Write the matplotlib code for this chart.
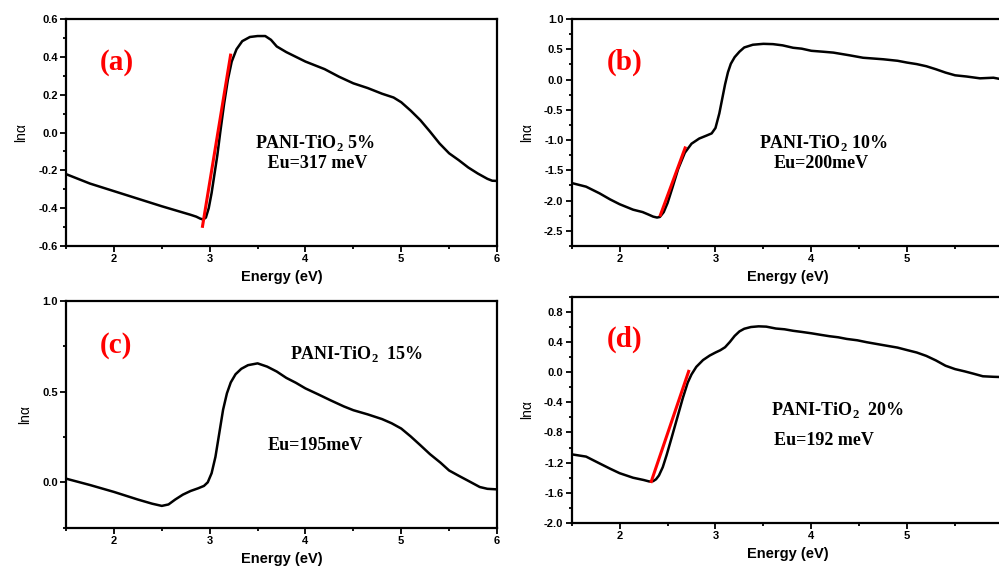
"""Urbach tail plots (ln alpha vs photon energy) for PANI-TiO2 composites."""
import matplotlib
matplotlib.use("Agg")
import matplotlib.pyplot as plt
from matplotlib.ticker import MultipleLocator, FixedLocator

SANS = "Liberation Sans"
SERIF = "Liberation Serif"

# (a) PANI-TiO2 5%
E_a = [1.5, 1.75, 2.0, 2.25, 2.5, 2.7, 2.8, 2.86, 2.9, 2.93, 2.96, 2.99, 3.02, 3.05,
       3.08, 3.11, 3.15, 3.19, 3.23, 3.28, 3.34, 3.42, 3.5, 3.58, 3.64, 3.7, 3.8,
       3.9, 4.0, 4.1, 4.2, 4.35, 4.5, 4.65, 4.8, 4.92, 5.0, 5.1, 5.2, 5.3, 5.4,
       5.5, 5.6, 5.7, 5.8, 5.9, 5.95, 6.0]
lna_a = [-0.22, -0.27, -0.31, -0.35, -0.39, -0.42, -0.435, -0.445, -0.455, -0.46, -0.45,
         -0.40, -0.32, -0.22, -0.12, 0.0, 0.15, 0.28, 0.375, 0.44, 0.483, 0.505, 0.51,
         0.51, 0.49, 0.455, 0.425, 0.40, 0.375, 0.355, 0.335, 0.295, 0.26, 0.235,
         0.205, 0.185, 0.16, 0.115, 0.065, 0.005, -0.058, -0.11, -0.146, -0.185,
         -0.217, -0.245, -0.255, -0.256]
fit_a_E = [2.925, 3.218]
fit_a_y = [-0.496, 0.409]

# (b) PANI-TiO2 10%
E_b = [1.5, 1.65, 1.79, 1.9, 2.0, 2.14, 2.24, 2.3, 2.35, 2.39, 2.42, 2.46, 2.5, 2.55,
       2.61, 2.68, 2.75, 2.83, 2.9, 2.96, 3.0, 3.04, 3.07, 3.1, 3.13, 3.16, 3.2,
       3.25, 3.3, 3.39, 3.5, 3.6, 3.7, 3.81, 3.9, 4.0, 4.12, 4.23, 4.4, 4.54,
       4.75, 4.9, 5.0, 5.1, 5.2, 5.3, 5.4, 5.5, 5.62, 5.76, 5.9, 6.0]
lna_b = [-1.71, -1.77, -1.88, -1.98, -2.06, -2.15, -2.19, -2.23, -2.265, -2.28, -2.27,
         -2.19, -2.04, -1.79, -1.48, -1.21, -1.06, -0.975, -0.93, -0.89, -0.80,
         -0.56, -0.32, -0.08, 0.12, 0.26, 0.37, 0.46, 0.53, 0.575, 0.59, 0.585,
         0.565, 0.525, 0.51, 0.475, 0.46, 0.445, 0.40, 0.36, 0.335, 0.31, 0.28,
         0.255, 0.22, 0.17, 0.115, 0.07, 0.05, 0.02, 0.03, 0.0]
fit_b_E = [2.425, 2.683]
fit_b_y = [-2.24, -1.13]

# (c) PANI-TiO2 15%
E_c = [1.5, 1.75, 2.0, 2.25, 2.4, 2.5, 2.57, 2.64, 2.72, 2.8, 2.88, 2.94, 2.98, 3.02,
       3.06, 3.1, 3.14, 3.18, 3.22, 3.27, 3.33, 3.4, 3.5, 3.6, 3.7, 3.8, 3.9,
       4.0, 4.13, 4.26, 4.4, 4.5, 4.65, 4.8, 4.9, 5.0, 5.1, 5.2, 5.3, 5.41,
       5.5, 5.6, 5.7, 5.82, 5.9, 6.0]
lna_c = [0.02, -0.015, -0.053, -0.095, -0.118, -0.13, -0.122, -0.095, -0.068, -0.048,
         -0.033, -0.02, 0.0, 0.05, 0.14, 0.27, 0.40, 0.49, 0.55, 0.595, 0.625,
         0.645, 0.655, 0.637, 0.61, 0.575, 0.548, 0.517, 0.485, 0.452, 0.418, 0.397,
         0.374, 0.348, 0.325, 0.296, 0.252, 0.204, 0.155, 0.108, 0.065, 0.036,
         0.008, -0.026, -0.036, -0.039]

# (d) PANI-TiO2 20%
E_d = [1.5, 1.65, 1.79, 1.9, 2.0, 2.14, 2.25, 2.31, 2.35, 2.38, 2.41, 2.45, 2.49, 2.54,
       2.6, 2.66, 2.71, 2.75, 2.8, 2.87, 2.94, 3.0, 3.05, 3.1, 3.15, 3.2, 3.25,
       3.3, 3.37, 3.45, 3.53, 3.63, 3.72, 3.81, 3.9, 4.0, 4.1, 4.19, 4.28, 4.37,
       4.48, 4.58, 4.75, 4.9, 5.0, 5.1, 5.2, 5.3, 5.4, 5.5, 5.6, 5.69, 5.79,
       5.9, 6.0]
lna_d = [-1.09, -1.12, -1.21, -1.28, -1.34, -1.40, -1.43, -1.45, -1.445, -1.42, -1.37,
         -1.26, -1.10, -0.88, -0.61, -0.34, -0.14, -0.03, 0.07, 0.16, 0.22, 0.26,
         0.29, 0.33, 0.40, 0.48, 0.54, 0.575, 0.598, 0.607, 0.603, 0.578, 0.568,
         0.548, 0.533, 0.515, 0.494, 0.476, 0.462, 0.44, 0.422, 0.396, 0.358, 0.325,
         0.292, 0.26, 0.215, 0.155, 0.085, 0.04, 0.01, -0.02, -0.055, -0.062, -0.066]
fit_d_E = [2.33, 2.72]
fit_d_y = [-1.45, 0.01]

ticks_full = [2, 3, 4, 5, 6]
ticks_cut = [2, 3, 4, 5]

panels = [
    # rect, E, lna, fit, ylim, ymajor, xticks, tag, tag_xy, text lines [(s, x, y)]
    ([0.0661, 0.5654, 0.4314, 0.4010], E_a, lna_a, (fit_a_E, fit_a_y),
     (-0.6, 0.6), 0.2, ticks_full, "(a)", (2.03, 0.37),
     [("PANI-TiO$_\\mathbf{2}$ 5%", 4.10, -0.056), (" Eu=317 meV", 4.10, -0.162)]),
    ([0.5723, 0.5654, 0.4317, 0.4010], E_b, lna_b, (fit_b_E, fit_b_y),
     (-2.75, 1.0), 0.5, ticks_cut, "(b)", (2.05, 0.29),
     [("PANI-TiO$_\\mathbf{2}$ 10%", 4.13, -1.05), ("Eu=200meV", 4.10, -1.39)]),
    ([0.0661, 0.0677, 0.4314, 0.4010], E_c, lna_c, None,
     (-0.25, 1.0), 0.5, ticks_full, "(c)", (2.02, 0.755),
     [("PANI-TiO$_\\mathbf{2}$  15%", 4.53, 0.704), ("Eu=195meV", 4.10, 0.20)]),
    ([0.5723, 0.0760, 0.4317, 0.3998], E_d, lna_d, (fit_d_E, fit_d_y),
     (-2.0, 1.0), 0.4, ticks_cut, "(d)", (2.05, 0.43),
     [("PANI-TiO$_\\mathbf{2}$  20%", 4.28, -0.50), ("Eu=192 meV", 4.13, -0.90)]),
]

plt.rcParams["axes.unicode_minus"] = False
plt.rcParams["mathtext.fontset"] = "custom"
plt.rcParams["mathtext.rm"] = SERIF
plt.rcParams["mathtext.bf"] = SERIF + ":bold"

fig = plt.figure(figsize=(9.99, 5.66), dpi=100, facecolor="white")

for rect, E, lna, fit, ylim, ymaj, xt, tag, tag_xy, lines in panels:
    ax = fig.add_axes(rect)
    ax.plot(E, lna, color="black", lw=1.8, zorder=3, solid_joinstyle="round")
    if fit is not None:
        ax.plot(fit[0], fit[1], color="#FF0000", lw=2.2, zorder=4)
    ax.set_xlim(1.5, 6.0)
    ax.set_ylim(*ylim)
    ax.xaxis.set_major_locator(FixedLocator(xt))
    ax.xaxis.set_minor_locator(MultipleLocator(0.5))
    ax.yaxis.set_major_locator(MultipleLocator(ymaj))
    ax.yaxis.set_minor_locator(MultipleLocator(ymaj / 2))
    for sp in ax.spines.values():
        sp.set_linewidth(1.6)
    ax.tick_params(which="both", direction="out", width=1.3, pad=2, labelsize=8)
    ax.tick_params(which="major", length=4)
    ax.tick_params(which="minor", length=2.5)
    for lab in ax.get_xticklabels() + ax.get_yticklabels():
        lab.set_fontfamily(SANS)
        lab.set_fontweight("bold")
    ax.set_xlabel("Energy (eV)", fontfamily=SANS, fontweight="bold", fontsize=10.5, labelpad=4)
    ax.set_ylabel("lnα", fontfamily=SANS, fontsize=10, labelpad=7)
    ax.text(*tag_xy, tag, color="#FF0000", fontfamily=SERIF, fontweight="bold",
            fontsize=21, ha="center", va="center")
    for s, x, y in lines:
        ax.text(x, y, s, fontfamily=SERIF, fontweight="bold", fontsize=13,
                ha="center", va="center")

fig.savefig("out.png", dpi=100, facecolor="white")
